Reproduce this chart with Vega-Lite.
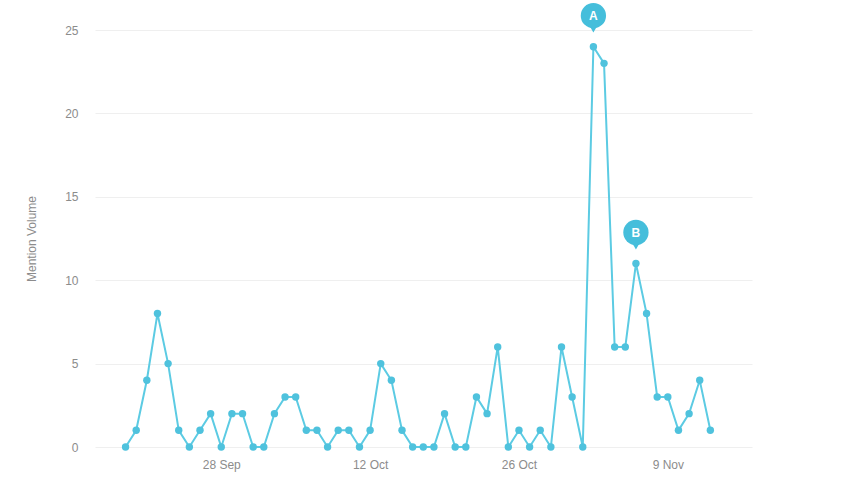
{
  "$schema": "https://vega.github.io/schema/vega-lite/v6.json",
  "autosize": "none",
  "width": 657,
  "height": 417,
  "padding": {"left": 95, "top": 30, "right": 93, "bottom": 55},
  "background": "white",
  "config": {"view": {"stroke": null}, "font": "Liberation Sans"},
  "data": {
    "values": [
      {"date": "2015-09-19", "volume": 0},
      {"date": "2015-09-20", "volume": 1},
      {"date": "2015-09-21", "volume": 4},
      {"date": "2015-09-22", "volume": 8},
      {"date": "2015-09-23", "volume": 5},
      {"date": "2015-09-24", "volume": 1},
      {"date": "2015-09-25", "volume": 0},
      {"date": "2015-09-26", "volume": 1},
      {"date": "2015-09-27", "volume": 2},
      {"date": "2015-09-28", "volume": 0},
      {"date": "2015-09-29", "volume": 2},
      {"date": "2015-09-30", "volume": 2},
      {"date": "2015-10-01", "volume": 0},
      {"date": "2015-10-02", "volume": 0},
      {"date": "2015-10-03", "volume": 2},
      {"date": "2015-10-04", "volume": 3},
      {"date": "2015-10-05", "volume": 3},
      {"date": "2015-10-06", "volume": 1},
      {"date": "2015-10-07", "volume": 1},
      {"date": "2015-10-08", "volume": 0},
      {"date": "2015-10-09", "volume": 1},
      {"date": "2015-10-10", "volume": 1},
      {"date": "2015-10-11", "volume": 0},
      {"date": "2015-10-12", "volume": 1},
      {"date": "2015-10-13", "volume": 5},
      {"date": "2015-10-14", "volume": 4},
      {"date": "2015-10-15", "volume": 1},
      {"date": "2015-10-16", "volume": 0},
      {"date": "2015-10-17", "volume": 0},
      {"date": "2015-10-18", "volume": 0},
      {"date": "2015-10-19", "volume": 2},
      {"date": "2015-10-20", "volume": 0},
      {"date": "2015-10-21", "volume": 0},
      {"date": "2015-10-22", "volume": 3},
      {"date": "2015-10-23", "volume": 2},
      {"date": "2015-10-24", "volume": 6},
      {"date": "2015-10-25", "volume": 0},
      {"date": "2015-10-26", "volume": 1},
      {"date": "2015-10-27", "volume": 0},
      {"date": "2015-10-28", "volume": 1},
      {"date": "2015-10-29", "volume": 0},
      {"date": "2015-10-30", "volume": 6},
      {"date": "2015-10-31", "volume": 3},
      {"date": "2015-11-01", "volume": 0},
      {"date": "2015-11-02", "volume": 24, "marker": "A"},
      {"date": "2015-11-03", "volume": 23},
      {"date": "2015-11-04", "volume": 6},
      {"date": "2015-11-05", "volume": 6},
      {"date": "2015-11-06", "volume": 11, "marker": "B"},
      {"date": "2015-11-07", "volume": 8},
      {"date": "2015-11-08", "volume": 3},
      {"date": "2015-11-09", "volume": 3},
      {"date": "2015-11-10", "volume": 1},
      {"date": "2015-11-11", "volume": 2},
      {"date": "2015-11-12", "volume": 4},
      {"date": "2015-11-13", "volume": 1}
    ]
  },
  "encoding": {
    "x": {
      "field": "date",
      "type": "temporal",
      "scale": {"type": "utc", "domain": [{"year": 2015, "month": 9, "date": 16, "hours": 3, "utc": true}, {"year": 2015, "month": 11, "date": 16, "hours": 22, "utc": true}]},
      "axis": {
        "title": null,
        "values": [
          {"year": 2015, "month": 9, "date": 28, "utc": true},
          {"year": 2015, "month": 10, "date": 12, "utc": true},
          {"year": 2015, "month": 10, "date": 26, "utc": true},
          {"year": 2015, "month": 11, "date": 9, "utc": true}
        ],
        "format": "%-d %b",
        "grid": false,
        "domain": false,
        "ticks": false,
        "labelPadding": 12,
        "labelFontSize": 12,
        "labelColor": "#8c8c8c"
      }
    },
    "y": {
      "field": "volume",
      "type": "quantitative",
      "scale": {"domain": [0, 25], "nice": false},
      "axis": {
        "title": "Mention Volume",
        "values": [0, 5, 10, 15, 20, 25],
        "grid": true,
        "gridColor": "#efefef",
        "domain": false,
        "ticks": false,
        "labelPadding": 17,
        "labelFontSize": 12,
        "labelColor": "#8c8c8c",
        "titleFontSize": 12,
        "titleFontWeight": "normal",
        "titleColor": "#8c8c8c",
        "titlePadding": 26
      }
    }
  },
  "layer": [
    {"mark": {"type": "line", "color": "#5ccbe3", "strokeWidth": 2}},
    {"mark": {"type": "point", "filled": true, "opacity": 1, "color": "#4fc2dd", "size": 55}},
    {
      "transform": [{"filter": "datum.marker"}],
      "mark": {"type": "point", "shape": "triangle-down", "filled": true, "opacity": 1, "color": "#45bedb", "size": 80, "yOffset": -18}
    },
    {
      "transform": [{"filter": "datum.marker"}],
      "mark": {"type": "point", "shape": "circle", "filled": true, "opacity": 1, "color": "#45bedb", "size": 640, "yOffset": -31}
    },
    {
      "transform": [{"filter": "datum.marker"}],
      "mark": {"type": "text", "color": "white", "fontWeight": "bold", "fontSize": 12, "yOffset": -31, "baseline": "middle"},
      "encoding": {"text": {"field": "marker"}}
    }
  ]
}
